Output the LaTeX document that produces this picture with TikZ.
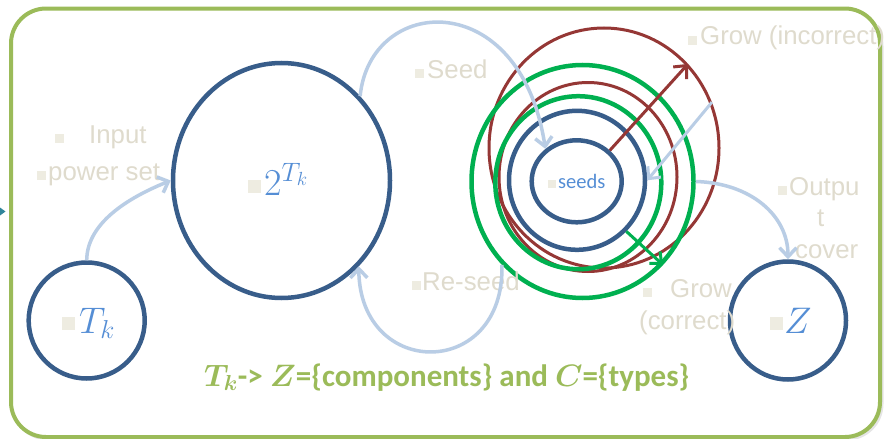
\RequirePackage{fix-cm}
\documentclass[tikz,border=0pt]{standalone}
\usepackage{fontspec}
\setmainfont{Liberation Sans}
\newfontfamily\carlito{Carlito}
\usepackage{bm}
\usetikzlibrary{shapes.geometric,arrows.meta}
\definecolor{frameg}{RGB}{155,187,89}
\definecolor{dblue}{RGB}{56,93,138}
\definecolor{lblue}{RGB}{185,205,229}
\definecolor{dred}{RGB}{149,55,53}
\definecolor{rgreen}{RGB}{0,176,80}
\definecolor{gtext}{RGB}{223,219,205}
\definecolor{sqc}{RGB}{238,236,225}
\definecolor{mblue}{RGB}{85,142,213}
\definecolor{tealc}{RGB}{49,133,155}
\newcommand\graysq[1]{\textcolor{sqc}{\rule{#1}{#1}}}
\begin{document}
\begin{tikzpicture}[x=1pt,y=-1pt,
  ring/.style={ellipse, draw=#1, inner sep=0pt},
  lab/.style={anchor=base west, inner sep=0pt, text=gtext, font=\fontsize{25.8}{28}\selectfont},
  mlab/.style={anchor=base west, inner sep=0pt, text=mblue},
  conn/.style={lblue, line width=3.5pt, -{Straight Barb[length=9pt,width=17pt]}},
  redarrow/.style={dred, line width=3pt, -{Straight Barb[length=10pt,width=18pt]}},
  greenarrow/.style={rgreen, line width=3pt, -{Straight Barb[length=9pt,width=16pt]}},
]
\useasboundingbox (0,0) rectangle (884,439);
\clip (0,0) rectangle (884,439);
% frame
\draw[black!10, line width=3pt, rounded corners=35pt] (13,11) rectangle (882,439);
\draw[frameg, line width=4pt, rounded corners=35pt, fill=white] (11,8.5) rectangle (880,437);
\fill[tealc] (0,207.5) -- (5.5,211.5) -- (0,215.5) -- cycle;
% circles
\node[ring=dblue, line width=4.5pt, minimum width=116pt, minimum height=116pt] (tk) at (86.7,320.5) {};
\node[ring=dblue, line width=4.5pt, minimum width=217pt, minimum height=235pt] (pset) at (281.5,180.5) {};
\node[ring=dred, line width=3pt, minimum width=230pt, minimum height=240pt] (r2) at (604,148) {};
\node[ring=dred, line width=3pt, minimum width=178pt, minimum height=189pt] (r1) at (588,177) {};
\node[ring=rgreen, line width=4.5pt, minimum width=222pt, minimum height=233pt] (g2) at (582.5,181.5) {};
\node[ring=rgreen, line width=4.5pt, minimum width=166pt, minimum height=173pt] (g1) at (578.3,182.7) {};
\node[ring=dblue, line width=4.5pt, minimum width=136pt, minimum height=139pt] (b2) at (577,180.3) {};
\node[ring=dblue, line width=4.5pt, minimum width=90pt, minimum height=82pt] (seeds) at (576.7,181.3) {};
\node[ring=dblue, line width=4.5pt, minimum width=116pt, minimum height=118pt] (z) at (788,320.5) {};
% gray labels
\node[lab] (linput) at (55,143) {\graysq{9pt}\hspace{25pt}Input};
\node[lab] (lpower) at (37,180) {\graysq{9pt}\hspace{2pt}power set};
\node[lab] (lseed) at (415,78) {\graysq{9pt}\hspace{3pt}Seed};
\node[lab] (lgrowi) at (688,45) {\graysq{9pt}\hspace{3pt}Grow (incorrect)};
\node[lab] (lreseed) at (412,290) {\graysq{9pt}\hspace{1pt}Re-seed};
\node[lab] (lgrowc) at (643,297) {\graysq{9pt}\hspace{18pt}Grow};
\node[lab] (lcorrect) at (639,329) {(correct)};
\node[lab] (lout1) at (778,195) {\graysq{9pt}\hspace{2pt}Outpu};
\node[lab] (lout2) at (817,226) {t};
\node[lab] (lout3) at (795,258) {cover};
% connectors
\draw[conn] (tk.north) .. controls (87,220) and (135,195) .. (pset.west);
\draw[conn] (pset.47) .. controls (370,-5) and (520,-15) .. (seeds.134);
\draw[conn] (g2.226) .. controls (505,380) and (360,380) .. (pset.312);
\draw[conn] (g2.east) .. controls (750,183) and (788,215) .. (z.north);
\draw[redarrow] (seeds.43) -- (r2.45);
\draw[conn, line width=3pt] (r2.23) -- (b2.east);
\draw[greenarrow] (b2.314) -- (g2.314);
% centre labels
\node[mlab] (ttk) at (62,333) {\raisebox{3pt}{\graysq{13pt}}\hspace{4pt}\fontsize{37}{40}\selectfont$T_k$};
\node[mlab] (t2) at (248,195) {\raisebox{2pt}{\graysq{13pt}}\hspace{3pt}\fontsize{38}{42}\selectfont$2^{T_k}$};
\node[mlab] (tz) at (770,333) {\raisebox{3pt}{\graysq{13pt}}\hspace{1pt}\fontsize{37}{40}\selectfont$Z$};
\node[mlab] (tseeds) at (548,188.3) {\graysq{8pt}\hspace{2pt}\carlito\fontsize{20.5}{24}\selectfont seeds};
\node[anchor=base west, inner sep=0pt, text=frameg, font=\carlito\bfseries\fontsize{31}{34}\selectfont] (caption) at (204,386) {$\bm{T_k}$-> $\bm{Z}$=\{components\} and $\bm{C}$=\{types\}};
\end{tikzpicture}
\end{document}
